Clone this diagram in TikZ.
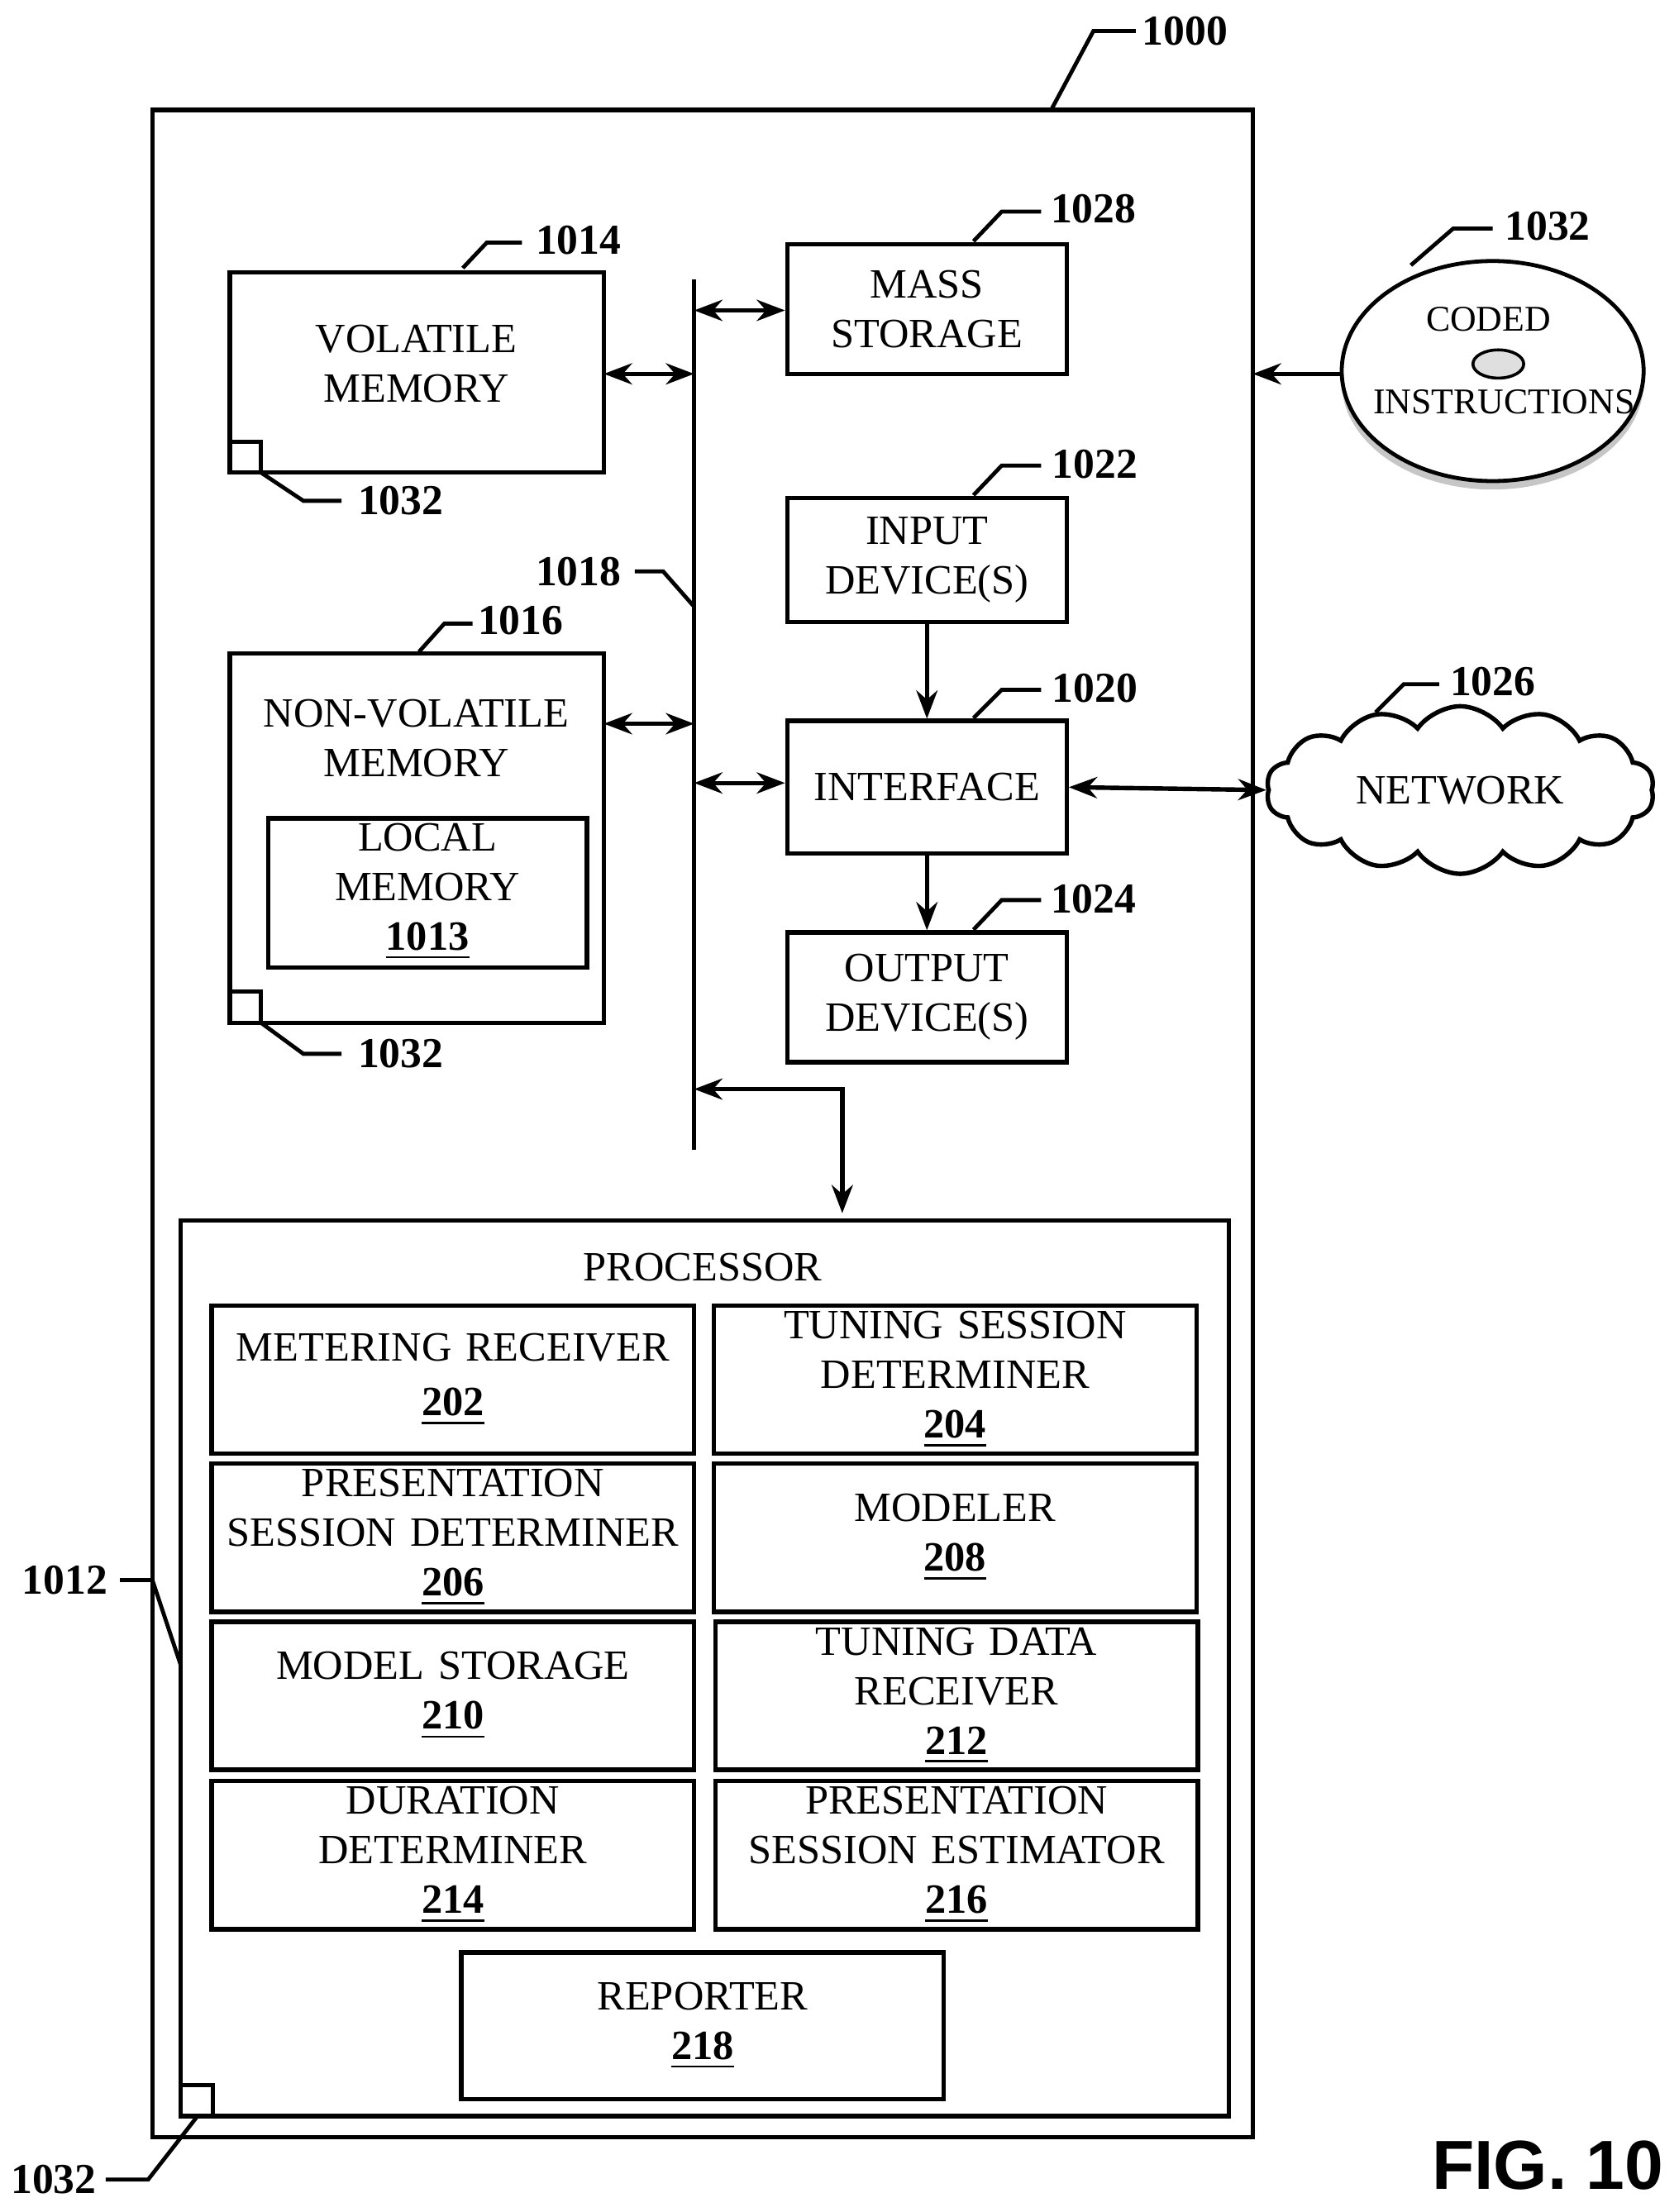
\documentclass[tikz,border=0pt]{standalone}
\usepackage{fontspec}
\setmainfont{Liberation Serif}
\usetikzlibrary{arrows.meta, positioning, shapes.symbols, calc}
\newcommand{\refnum}[1]{\textbf{\underline{#1}}}
\begin{document}
\begin{tikzpicture}[x=0.01cm, y=-0.01cm,
    box/.style={draw, line width=0.9pt, align=center, font=\fontsize{8.4}{10}\selectfont},
    tag/.style={font=\fontsize{8.6}{10}\selectfont\bfseries},
    lead/.style={line width=0.8pt},
    dbl/.style={{Stealth[length=2mm]}-{Stealth[length=2mm]}, line width=0.9pt},
    one/.style={-{Stealth[length=2mm]}, line width=0.9pt}
]
\useasboundingbox (0,0) rectangle (1190,1568);

% outer system box
\draw[line width=0.9pt] (108,78) rectangle (888,1515);

% memories
\draw[line width=0.9pt] (163,193) rectangle (428,335);
\node[box, draw=none] (voltxt) at (295,258) {VOLATILE\\MEMORY};
\draw[line width=0.9pt] (163,313) rectangle (185,335);
\coordinate (volR) at (428,265);

\draw[line width=0.9pt] (163,463) rectangle (428,725);
\node[box, draw=none] (nvtxt) at (295,523) {NON-VOLATILE\\MEMORY};
\draw[line width=0.9pt] (190,580) rectangle (416,686);
\node[box, draw=none] (loc) at (303,632) {LOCAL\\MEMORY\\\refnum{1013}};
\draw[line width=0.9pt] (163,703) rectangle (185,725);
\coordinate (nvR) at (428,513);

% bus
\coordinate (busT) at (492,198);
\coordinate (busB) at (492,815);
\draw[line width=0.9pt] (busT) -- (busB);

% right column devices
\node[box, minimum width=198*0.01cm, minimum height=92*0.01cm] (mass) at (657,219) {MASS\\STORAGE};
\node[box, minimum width=198*0.01cm, minimum height=88*0.01cm] (inp) at (657,397) {INPUT\\DEVICE(S)};
\node[box, minimum width=198*0.01cm, minimum height=94*0.01cm] (intf) at (657,558) {INTERFACE};
\node[box, minimum width=198*0.01cm, minimum height=92*0.01cm] (outp) at (657,707) {OUTPUT\\DEVICE(S)};

% disk
\fill[gray!45] (1058,271) ellipse (107*0.01cm and 76*0.01cm);
\draw[line width=0.8pt, fill=white] (1058,263) ellipse (107*0.01cm and 78*0.01cm);
\draw[line width=0.6pt, fill=gray!25] (1062,258) ellipse (18*0.01cm and 10*0.01cm);
\node[font=\fontsize{7.3}{9}\selectfont] (disk) at (1055,226) {CODED};
\node[font=\fontsize{7.3}{9}\selectfont] (disk2) at (1066,285) {INSTRUCTIONS};
\coordinate (diskL) at (950,265);
\coordinate (sysR) at (888,265);

% network cloud
\node[cloud, draw, line width=0.9pt, cloud puffs=14, cloud puff arc=110, aspect=2.6,
      minimum width=275*0.01cm, minimum height=105*0.01cm,
      font=\fontsize{8.4}{10}\selectfont] (net) at (1035,560) {NETWORK};

% processor
\draw[line width=0.9pt] (128,865) rectangle (871,1500);
\node[box, draw=none] (proc) at (498,898) {PROCESSOR};
\draw[line width=0.9pt] (128,1478) rectangle (151,1500);
\coordinate (procT) at (597,860);

\foreach \name/\txt/\x/\y in {
    mr/{METERING RECEIVER\\[1pt]\refnum{202}}/321/978,
    ts/{TUNING SESSION\\DETERMINER\\\refnum{204}}/677/978,
    ps/{PRESENTATION\\SESSION DETERMINER\\\refnum{206}}/321/1090,
    mo/{MODELER\\\refnum{208}}/677/1090,
    ms/{MODEL STORAGE\\\refnum{210}}/321/1202,
    td/{TUNING DATA\\RECEIVER\\\refnum{212}}/678/1202,
    dd/{DURATION\\DETERMINER\\\refnum{214}}/321/1315,
    pe/{PRESENTATION\\SESSION ESTIMATOR\\\refnum{216}}/678/1315}
  \node[box, minimum width=342*0.01cm, minimum height=105*0.01cm, text width=330*0.01cm, inner sep=1pt] (\name) at (\x,\y) {\txt};
\node[box, minimum width=342*0.01cm, minimum height=104*0.01cm] (rep) at (498,1436) {REPORTER\\\refnum{218}};

% connectors
\draw[dbl] (volR) -- (492,265);
\draw[dbl] (nvR) -- (492,513);
\draw[dbl] (492,220) -- (mass.west |- 492,220);
\draw[dbl] (492,555) -- (intf.west |- 492,555);
\draw[one] (inp) -- (intf);
\draw[one] (intf) -- (outp);
\draw[dbl] (intf.east) -- (net.west);
\draw[one] (diskL) -- (sysR);
\draw[dbl] (492,772) -- (597,772) -- (procT);

% reference labels
\draw[lead] (745,78) -- (775,22) -- (805,22);
\node[tag] (l1000) at (840,22) {1000};
\draw[lead] (328,190) -- (345,172) -- (370,172);
\node[tag] (l1014) at (410,170) {1014};
\draw[lead] (185,335) -- (215,355) -- (242,355);
\node[tag] (l1032a) at (284,355) {1032};
\draw[lead] (185,725) -- (215,747) -- (242,747);
\node[tag] (l1032b) at (284,747) {1032};
\draw[lead] (450,405) -- (470,405) -- (492,430);
\node[tag] (l1018) at (410,405) {1018};
\draw[lead] (297,462) -- (315,442) -- (335,442);
\node[tag] (l1016) at (369,440) {1016};
\draw[lead] (690,171) -- (710,150) -- (738,150);
\node[tag] (l1028) at (775,148) {1028};
\draw[lead] (690,351) -- (710,330) -- (738,330);
\node[tag] (l1022) at (776,329) {1022};
\draw[lead] (690,509) -- (710,489) -- (738,489);
\node[tag] (l1020) at (776,488) {1020};
\draw[lead] (690,659) -- (710,638) -- (738,638);
\node[tag] (l1024) at (775,637) {1024};
\draw[lead] (1000,188) -- (1030,162) -- (1058,162);
\node[tag] (l1032c) at (1097,160) {1032};
\draw[lead] (975,505) -- (995,485) -- (1020,485);
\node[tag] (l1026) at (1058,483) {1026};
\draw[lead] (85,1120) -- (108,1120) -- (128,1180);
\node[tag] (l1012) at (46,1120) {1012};
\draw[lead] (75,1545) -- (105,1545) -- (140,1500);
\node[tag] (l1032d) at (38,1545) {1032};
\node[font=\fontsize{14}{16}\selectfont\bfseries\fontspec{Liberation Sans}] (fig) at (1097,1535) {FIG. 10};
\end{tikzpicture}
\end{document}
